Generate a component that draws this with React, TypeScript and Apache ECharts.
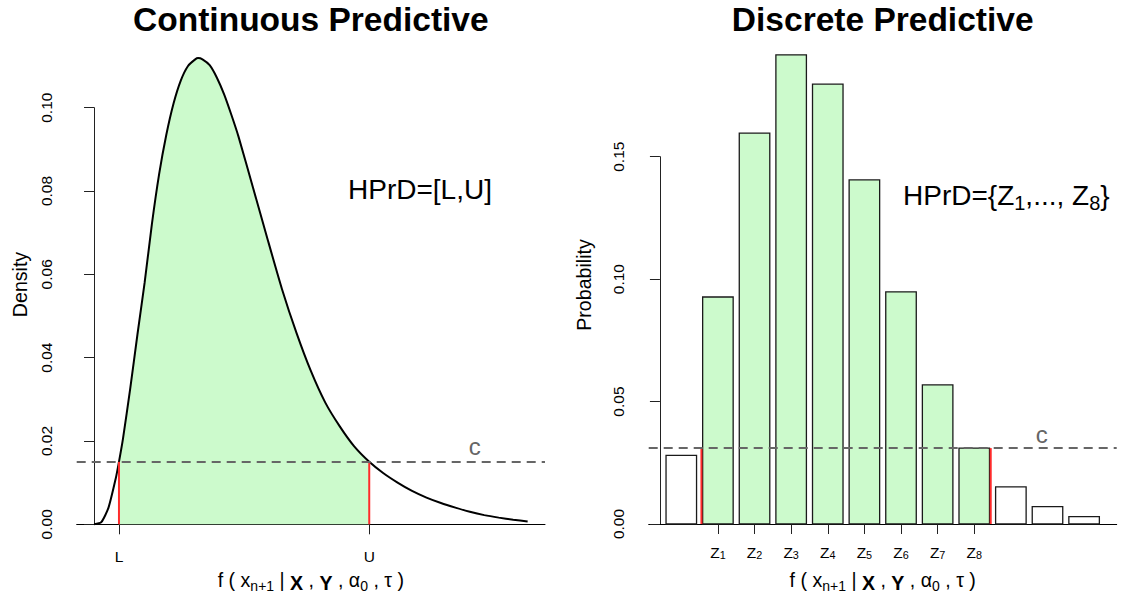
import React, { useEffect, useRef } from "react";
import * as echarts from "echarts";

// ---- Continuous predictive density, sampled along its support (x in arbitrary units) ----
const densityX = [
  0, 0.25, 0.5, 0.75, 0.862, 1.0, 1.25, 1.5, 1.75, 2.0, 2.25, 2.5, 2.75, 3.0, 3.25, 3.5, 3.6, 3.75,
  4.0, 4.25, 4.5, 4.75, 5.0, 5.5, 6.0, 6.5, 7.0, 7.5, 8.0, 8.5, 9.0, 9.52, 10.0, 10.5, 11.0,
  11.5, 12.0, 12.5, 13.0, 13.5, 14.0, 14.5, 15.0,
];
const densityY = [
  0, 0.0005, 0.004, 0.011, 0.015, 0.0205, 0.0325, 0.0455, 0.058, 0.072, 0.084, 0.0935, 0.101,
  0.1065, 0.11, 0.1116, 0.1119, 0.1116, 0.1102, 0.1072, 0.1032, 0.0983, 0.093, 0.0808, 0.0685,
  0.0565, 0.046, 0.0368, 0.0292, 0.0235, 0.0187, 0.015, 0.0123, 0.01, 0.008, 0.0064, 0.0051,
  0.004, 0.003, 0.0022, 0.0016, 0.0011, 0.0007,
];
const lowerL = 0.862;
const upperU = 9.52;
const cutContinuous = 0.015;
const continuousTickLabels = ["L", "U"];

// ---- Discrete predictive probabilities ----
const probValues = [
  0.028, 0.0927, 0.1596, 0.1916, 0.1796, 0.1405, 0.0948, 0.0568, 0.031, 0.0152, 0.0071, 0.003,
];
// bars belonging to the highest predictive region, Z1..Z8
const hprdIndices = [1, 2, 3, 4, 5, 6, 7, 8];
const zSubscripts = ["1", "2", "3", "4", "5", "6", "7", "8"];
const cutDiscrete = 0.031;

// ---- styling / layout ----
const FONT = '"Liberation Sans", Arial, Helvetica, sans-serif';
const GREEN = "#ccfacc";
const RED = "#ff2b2b";
const GRAY = "#666666";
const AXIS = "#222222";
const TICK_FONT = 15.5;
const LAB_FONT = 19.6;
const TITLE_FONT = 33.5;

const LEFT_GRID = { left: 76.7, top: 107.7, width: 468.3, height: 416.6 };
const RIGHT_GRID = { left: 648.7, top: 156.7, width: 468, height: 367.3 };

// barplot layout: width 1, space 0.2
const BAR_W = 1;
const BAR_SPACE = 0.2;
const barLeft = (i: number) => BAR_SPACE + i * (BAR_W + BAR_SPACE);
const barCenter = (i: number) => barLeft(i) + BAR_W / 2;

const contPad = 0.04 * (densityX[densityX.length - 1] - densityX[0]);
const contMin = densityX[0] - contPad;
const contMax = densityX[densityX.length - 1] + contPad;

const barsMin = barLeft(0);
const barsMax = barLeft(probValues.length - 1) + BAR_W;
const barsPad = 0.04 * (barsMax - barsMin);

const edgeGap = 0.04;
const hprdLeftEdge = barLeft(hprdIndices[0]) - edgeGap;
const hprdRightEdge = barLeft(hprdIndices[hprdIndices.length - 1]) + BAR_W + edgeGap;

const zCenters = hprdIndices.map(barCenter);

const tickLabelStyle = { fontSize: TICK_FONT, fontFamily: FONT, color: "#000" };

const xlabRich = {
  s: { fontSize: 14, lineHeight: 13, verticalAlign: "bottom", fontFamily: FONT, fill: "#000" },
  b: { fontSize: LAB_FONT, lineHeight: 26, verticalAlign: "bottom", fontWeight: "bold", fontFamily: FONT, fill: "#000" },
};
const xlabText = "f ( x{s|n+1} | {b|X} , {b|Y} , \u03b1{s|0} , \u03c4 )";

function cutLine(cut: number) {
  return {
    silent: true,
    precision: 10,
    symbol: ["none", "none"],
    label: { show: false },
    lineStyle: { color: GRAY, width: 2, type: [9, 6] },
    data: [{ yAxis: cut }],
    z: 5,
  };
}

function cutLabel(x: number, cut: number, dy: number) {
  return {
    symbol: "circle",
    symbolSize: 1,
    itemStyle: { color: "rgba(0,0,0,0)" },
    label: {
      show: true,
      formatter: "c",
      position: "inside",
      offset: [0, dy],
      color: GRAY,
      fontSize: 24,
      fontFamily: FONT,
    },
    data: [{ coord: [x, cut] }],
  };
}

function yAxisLabel() {
  return {
    rotate: 90,
    formatter: (v: number) => v.toFixed(2),
    margin: 30.5,
    align: "center",
    verticalAlign: "middle",
    ...tickLabelStyle,
  };
}

function buildOption() {
  const pts = densityX.map((x, i) => [x, densityY[i]]);
  const fillPts = pts.filter((p) => p[0] >= lowerL - 1e-9 && p[0] <= upperU + 1e-9);
  const hprdSet = new Set(hprdIndices);

  const redSegment = (axis: number, x: number, cut: number, extra: any = {}) => ({
    type: "line",
    xAxisIndex: axis,
    yAxisIndex: axis,
    data: [
      [x, 0],
      [x, cut],
    ],
    symbol: "none",
    clip: false,
    silent: true,
    lineStyle: { color: RED, width: 2 },
    z: 4,
    ...extra,
  });

  const centeredText = (x: number, y: number, text: string, style: any, rotation = 0) => ({
    type: "text",
    x,
    y,
    rotation,
    style: {
      text,
      fontFamily: FONT,
      fill: "#000",
      align: "center",
      verticalAlign: "middle",
      ...style,
    },
  });

  return {
    animation: false,
    grid: [
      { ...LEFT_GRID, containLabel: false },
      { ...RIGHT_GRID, containLabel: false },
    ],
    xAxis: [
      {
        type: "value",
        gridIndex: 0,
        min: contMin,
        max: contMax,
        axisLine: { show: true, onZero: false, lineStyle: { color: "#000", width: 1 } },
        axisTick: { show: true, customValues: [lowerL, upperU], length: 10, lineStyle: { color: AXIS } },
        axisLabel: {
          show: true,
          customValues: [lowerL, upperU],
          formatter: (v: number) =>
            Math.abs(v - lowerL) < 1e-6 ? continuousTickLabels[0] : continuousTickLabels[1],
          margin: 31.7,
          verticalAlign: "middle",
          hideOverlap: false,
          ...tickLabelStyle,
        },
        splitLine: { show: false },
      },
      {
        type: "value",
        gridIndex: 1,
        min: barsMin - barsPad,
        max: barsMax + barsPad,
        axisLine: { show: true, onZero: false, lineStyle: { color: "#000", width: 1 } },
        axisTick: { show: true, customValues: zCenters, length: 10, lineStyle: { color: AXIS } },
        axisLabel: {
          show: true,
          customValues: zCenters,
          formatter: (v: number) => {
            const k = zCenters.findIndex((c) => Math.abs(c - v) < 1e-6);
            return `{z|Z}{s|${zSubscripts[k] ?? ""}}`;
          },
          margin: 26,
          verticalAlign: "middle",
          hideOverlap: false,
          rich: {
            z: { fontSize: TICK_FONT, lineHeight: 20, verticalAlign: "bottom", fontFamily: FONT, color: "#000" },
            s: { fontSize: 10.8, lineHeight: 9, verticalAlign: "bottom", fontFamily: FONT, color: "#000" },
          },
          ...tickLabelStyle,
        },
        splitLine: { show: false },
      },
    ],
    yAxis: [
      {
        type: "value",
        gridIndex: 0,
        min: 0,
        max: 0.1,
        interval: 0.02,
        axisLine: { show: true, lineStyle: { color: AXIS, width: 1 } },
        axisTick: { show: true, length: 10, lineStyle: { color: AXIS } },
        axisLabel: yAxisLabel(),
        splitLine: { show: false },
      },
      {
        type: "value",
        gridIndex: 1,
        min: 0,
        max: 0.15,
        interval: 0.05,
        axisLine: { show: true, lineStyle: { color: AXIS, width: 1 } },
        axisTick: { show: true, length: 10, lineStyle: { color: AXIS } },
        axisLabel: yAxisLabel(),
        splitLine: { show: false },
      },
    ],
    series: [
      // shaded region [L, U] under the density
      {
        type: "line",
        xAxisIndex: 0,
        yAxisIndex: 0,
        data: fillPts,
        symbol: "none",
        clip: false,
        silent: true,
        smooth: 0.2,
        lineStyle: { width: 0, opacity: 0 },
        areaStyle: { color: GREEN, opacity: 1 },
        z: 1,
      },
      // density curve
      {
        type: "line",
        xAxisIndex: 0,
        yAxisIndex: 0,
        data: pts,
        symbol: "none",
        clip: false,
        silent: true,
        smooth: 0.2,
        lineStyle: { color: "#000", width: 2 },
        z: 3,
      },
      // red bounds at L and U, threshold c
      redSegment(0, lowerL, cutContinuous),
      redSegment(0, upperU, cutContinuous, {
        markLine: cutLine(cutContinuous),
        markPoint: cutLabel(13.17, cutContinuous, -15),
      }),
      // discrete predictive bars
      {
        type: "custom",
        xAxisIndex: 1,
        yAxisIndex: 1,
        clip: false,
        silent: true,
        data: probValues.map((v, i) => [i, v]),
        encode: { x: 0, y: 1 },
        renderItem: (params: any, api: any) => {
          const i = api.value(0);
          const v = api.value(1);
          const p0 = api.coord([barLeft(i), v]);
          const p1 = api.coord([barLeft(i) + BAR_W, 0]);
          return {
            type: "rect",
            shape: { x: p0[0], y: p0[1], width: p1[0] - p0[0], height: p1[1] - p0[1] },
            style: { fill: hprdSet.has(i) ? GREEN : "#ffffff", stroke: "#1a1a1a", lineWidth: 1.3 },
          };
        },
        z: 2,
      },
      redSegment(1, hprdLeftEdge, cutDiscrete),
      redSegment(1, hprdRightEdge, cutDiscrete, {
        markLine: cutLine(cutDiscrete),
        markPoint: cutLabel(12.51, cutDiscrete, -14),
      }),
    ],
    graphic: [
      centeredText(LEFT_GRID.left + LEFT_GRID.width / 2, 19, "Continuous Predictive", {
        fontSize: TITLE_FONT,
        fontWeight: "bold",
      }),
      centeredText(RIGHT_GRID.left + RIGHT_GRID.width / 2, 19, "Discrete Predictive", {
        fontSize: TITLE_FONT,
        fontWeight: "bold",
      }),
      centeredText(19.5, 284.5, "Density", { fontSize: LAB_FONT }, Math.PI / 2),
      centeredText(584, 285, "Probability", { fontSize: LAB_FONT }, Math.PI / 2),
      centeredText(LEFT_GRID.left + LEFT_GRID.width / 2, 580, xlabText, {
        rich: xlabRich,
        fontSize: LAB_FONT,
        lineHeight: 26,
      }),
      centeredText(RIGHT_GRID.left + RIGHT_GRID.width / 2, 580, xlabText, {
        rich: xlabRich,
        fontSize: LAB_FONT,
        lineHeight: 26,
      }),
      {
        type: "text",
        x: 348,
        y: 189.3,
        style: {
          text: "HPrD=[L,U]",
          fontSize: 28,
          fontFamily: FONT,
          fill: "#000",
          align: "left",
          verticalAlign: "middle",
        },
      },
      {
        type: "text",
        x: 903,
        y: 195.3,
        style: {
          text: "HPrD={Z{s|1},..., Z{s|8}}",
          rich: {
            s: { fontSize: 20, lineHeight: 20, verticalAlign: "bottom", fontFamily: FONT, fill: "#000" },
          },
          fontSize: 28,
          lineHeight: 36,
          fontFamily: FONT,
          fill: "#000",
          align: "left",
          verticalAlign: "middle",
        },
      },
    ],
  };
}

export default function App() {
  const ref = useRef<HTMLDivElement>(null);
  useEffect(() => {
    document.body.style.margin = "0";
    const chart = echarts.init(ref.current!, null, { renderer: "svg" });
    chart.setOption(buildOption() as any);
    return () => chart.dispose();
  }, []);
  return <div ref={ref} style={{ width: 1121, height: 597, overflow: "hidden" }} />;
}
